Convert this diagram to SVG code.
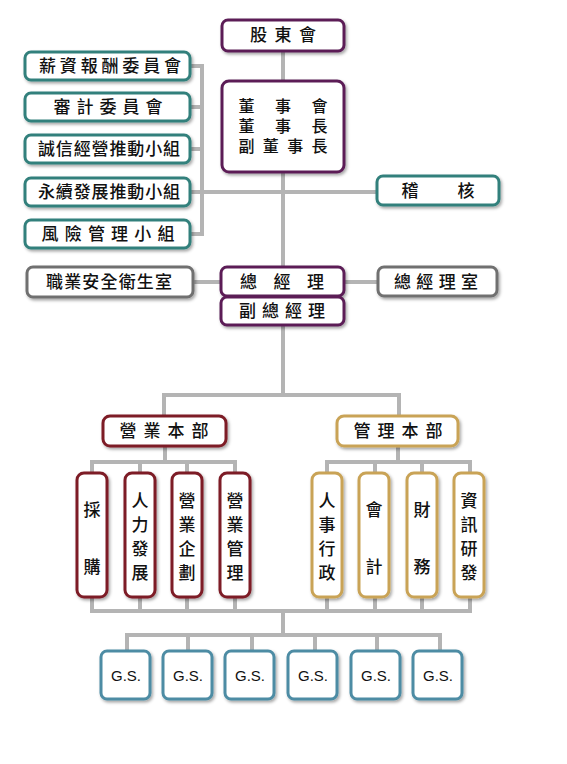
<svg xmlns="http://www.w3.org/2000/svg" width="567" height="764" viewBox="0 0 567 764">
<defs>
<filter id="sh" x="-20%" y="-20%" width="140%" height="150%">
<feDropShadow dx="1.5" dy="2" stdDeviation="1.5" flood-color="#000" flood-opacity="0.35"/>
</filter>
<style>
.b{fill:#fff;stroke-width:3;filter:url(#sh)}
.teal{stroke:#33807c}
.pur{stroke:#5b1f57}
.gray{stroke:#707070}
.red{stroke:#7d1c26}
.gold{stroke:#c9a356}
.gs{stroke:#4d8ca4}
.t{font-family:"Noto Sans CJK TC","Noto Sans CJK SC",sans-serif;font-size:17px;font-weight:500;fill:#111;text-anchor:middle}
.bd{font-size:16px}
.g{font-family:"Liberation Sans",Arial,sans-serif;font-size:15px;fill:#111;text-anchor:middle}
.c{stroke:#b4b4b4;stroke-width:4;fill:none}
</style>
</defs>
<rect width="567" height="764" fill="#fff"/>
<g id="connectors">
<path class="c" d="M283 52V82M283 172V267M283 325V395"/>
<path class="c" d="M190 66H202V234H190M190 107H202M190 149H202M190 192H377"/>
<path class="c" d="M193 282H221M345 282H378"/>
<path class="c" d="M164 416V395H399V416"/>
<path class="c" d="M165 446V462M92 473V462H235V473M140 462V473M187 462V473"/>
<path class="c" d="M398 446V462M327 473V462H470V473M375 462V473M422 462V473"/>
<path class="c" d="M92 597V611H470V597M140 597V611M187 597V611M235 597V611M327 597V611M375 597V611M422 597V611"/>
<path class="c" d="M283 611V635M127 651V635H440V651M188 635V651M252 635V651M315 635V651M377 635V651"/>
</g>
<g id="n-shareholders"><rect class="b pur" x="222" y="20" width="122" height="31" rx="6"/><text class="t" x="283" y="41" textLength="66" lengthAdjust="spacing">股東會</text></g>
<g id="n-board"><rect class="b pur" x="222" y="81" width="122" height="91" rx="7"/>
<text class="t bd"><tspan x="246.5 283 319.5" y="112">董事會</tspan><tspan x="246.5 283 319.5" y="132">董事長</tspan><tspan x="246.5 270.8 295.2 319.5" y="152">副董事長</tspan></text></g>
<g id="n-comp"><rect class="b teal" x="25" y="52" width="165" height="28" rx="6"/><text class="t" x="110" y="72" textLength="142" lengthAdjust="spacing">薪資報酬委員會</text></g>
<g id="n-audit"><rect class="b teal" x="25" y="93" width="165" height="28" rx="6"/><text class="t" x="108" y="113" textLength="109" lengthAdjust="spacing">審計委員會</text></g>
<g id="n-integrity"><rect class="b teal" x="25" y="135" width="165" height="28" rx="6"/><text class="t" x="109" y="155" textLength="142" lengthAdjust="spacing">誠信經營推動小組</text></g>
<g id="n-sustain"><rect class="b teal" x="25" y="178" width="165" height="28" rx="6"/><text class="t" x="109" y="198" textLength="142" lengthAdjust="spacing">永續發展推動小組</text></g>
<g id="n-risk"><rect class="b teal" x="25" y="220" width="165" height="28" rx="6"/><text class="t" x="108" y="240" textLength="133" lengthAdjust="spacing">風險管理小組</text></g>
<g id="n-internal"><rect class="b teal" x="377" y="176" width="122" height="29" rx="6"/><text class="t" x="438" y="197" textLength="73" lengthAdjust="spacing">稽核</text></g>
<g id="n-safety"><rect class="b gray" x="27" y="267" width="166" height="30" rx="6"/><text class="t" x="109" y="288" textLength="126" lengthAdjust="spacing">職業安全衛生室</text></g>
<g id="n-gm"><rect class="b pur" x="221" y="267" width="123" height="29" rx="6"/><text class="t" x="282" y="288" textLength="84" lengthAdjust="spacing">總經理</text></g>
<g id="n-gmoffice"><rect class="b gray" x="378" y="267" width="119" height="29" rx="6"/><text class="t" x="436" y="288" textLength="84" lengthAdjust="spacing">總經理室</text></g>
<g id="n-vgm"><rect class="b pur" x="221" y="297" width="123" height="28" rx="6"/><text class="t" x="282" y="317" textLength="86" lengthAdjust="spacing">副總經理</text></g>
<g id="n-sales"><rect class="b red" x="103" y="416" width="123" height="30" rx="7"/><text class="t" x="164" y="437" textLength="89" lengthAdjust="spacing">營業本部</text></g>
<g id="n-mgmt"><rect class="b gold" x="337" y="416" width="121" height="30" rx="7"/><text class="t" x="398" y="437" textLength="89" lengthAdjust="spacing">管理本部</text></g>
<g id="n-purchase"><rect class="b red" x="77" y="473" width="30" height="124" rx="7"/><text class="t"><tspan x="92" y="516">採</tspan><tspan x="92" y="573">購</tspan></text></g>
<g id="n-hr"><rect class="b red" x="125" y="473" width="30" height="124" rx="7"/><text class="t"><tspan x="140" y="507">人</tspan><tspan x="140" y="531">力</tspan><tspan x="140" y="555">發</tspan><tspan x="140" y="579">展</tspan></text></g>
<g id="n-plan"><rect class="b red" x="172" y="473" width="30" height="124" rx="7"/><text class="t"><tspan x="187" y="507">營</tspan><tspan x="187" y="531">業</tspan><tspan x="187" y="555">企</tspan><tspan x="187" y="579">劃</tspan></text></g>
<g id="n-salesmgmt"><rect class="b red" x="220" y="473" width="30" height="124" rx="7"/><text class="t"><tspan x="235" y="507">營</tspan><tspan x="235" y="531">業</tspan><tspan x="235" y="555">管</tspan><tspan x="235" y="579">理</tspan></text></g>
<g id="n-admin"><rect class="b gold" x="312" y="473" width="30" height="124" rx="7"/><text class="t"><tspan x="327" y="507">人</tspan><tspan x="327" y="531">事</tspan><tspan x="327" y="555">行</tspan><tspan x="327" y="579">政</tspan></text></g>
<g id="n-acct"><rect class="b gold" x="359" y="473" width="30" height="124" rx="7"/><text class="t"><tspan x="374" y="516">會</tspan><tspan x="374" y="573">計</tspan></text></g>
<g id="n-fin"><rect class="b gold" x="407" y="473" width="30" height="124" rx="7"/><text class="t"><tspan x="422" y="516">財</tspan><tspan x="422" y="573">務</tspan></text></g>
<g id="n-it"><rect class="b gold" x="454" y="473" width="30" height="124" rx="7"/><text class="t"><tspan x="469" y="507">資</tspan><tspan x="469" y="531">訊</tspan><tspan x="469" y="555">研</tspan><tspan x="469" y="579">發</tspan></text></g>
<g id="n-gs1"><rect class="b gs" x="101" y="651" width="49" height="48" rx="6"/><text class="g" x="126" y="681">G.S.</text></g>
<g id="n-gs2"><rect class="b gs" x="163" y="651" width="49" height="48" rx="6"/><text class="g" x="188" y="681">G.S.</text></g>
<g id="n-gs3"><rect class="b gs" x="225" y="651" width="49" height="48" rx="6"/><text class="g" x="250" y="681">G.S.</text></g>
<g id="n-gs4"><rect class="b gs" x="288" y="651" width="49" height="48" rx="6"/><text class="g" x="313" y="681">G.S.</text></g>
<g id="n-gs5"><rect class="b gs" x="351" y="651" width="49" height="48" rx="6"/><text class="g" x="376" y="681">G.S.</text></g>
<g id="n-gs6"><rect class="b gs" x="413" y="651" width="49" height="48" rx="6"/><text class="g" x="438" y="681">G.S.</text></g>
</svg>
